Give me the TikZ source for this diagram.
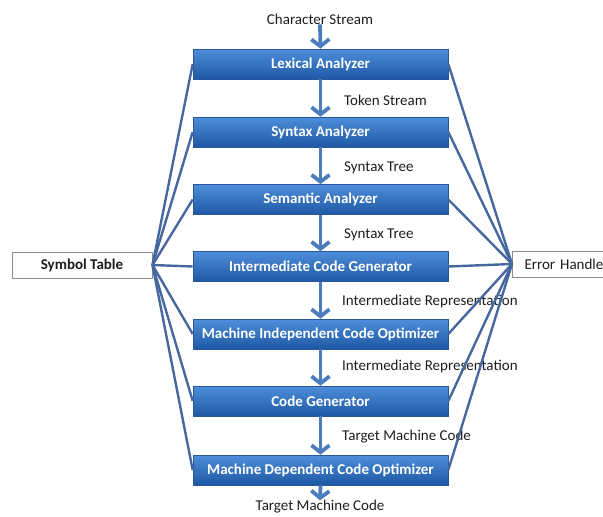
\documentclass[tikz,border=0pt]{standalone}
\usepackage{fontspec}
\setmainfont{Carlito}
\usetikzlibrary{arrows.meta}
\definecolor{boxtop}{RGB}{78,142,218}
\definecolor{boxbot}{RGB}{30,88,164}
\definecolor{boxedge}{RGB}{40,88,155}
\definecolor{linkblue}{RGB}{70,104,158}
\definecolor{flowblue}{RGB}{74,124,190}
\definecolor{sideedge}{RGB}{140,140,140}
\definecolor{inktext}{RGB}{30,30,30}
\tikzset{
  stagebox/.style={rectangle, minimum width=255pt, minimum height=30pt, inner sep=0pt,
    top color=boxtop, bottom color=boxbot, draw=boxedge, line width=0.6pt,
    text=white, font=\fontsize{15}{18}\selectfont\bfseries},
  sidebox/.style={rectangle, minimum height=26pt, inner sep=0pt, fill=white,
    draw=sideedge, line width=1pt, text=inktext},
  lbl/.style={anchor=west, inner sep=0pt, text=inktext, font=\fontsize{15}{18}\selectfont},
  flow/.style={-{Straight Barb[length=7pt,width=18pt]}, line width=3.8pt, draw=flowblue},
  link/.style={line width=2.4pt, draw=linkblue},
}
\begin{document}
\begin{tikzpicture}[x=1pt,y=-1pt]
\useasboundingbox (0,0) rectangle (603,517);
\clip (0,0) rectangle (603,517);
\node[stagebox] (b1) at (320.5,64) {Lexical Analyzer};
\node[stagebox] (b2) at (320.5,132) {Syntax Analyzer};
\node[stagebox] (b3) at (320.5,199.5) {Semantic Analyzer};
\node[stagebox] (b4) at (320.5,266.5) {Intermediate Code Generator};
\node[stagebox] (b5) at (320.5,334) {Machine Independent Code Optimizer};
\node[stagebox] (b6) at (320.5,401) {Code Generator};
\node[stagebox] (b7) at (320.5,470) {Machine Dependent Code Optimizer};

\node[sidebox, minimum width=140pt, font=\fontsize{15}{18}\selectfont\bfseries] (sym) at (82,265) {Symbol Table};
\node[sidebox, minimum width=120pt, anchor=west, inner xsep=12pt, font=\fontsize{15}{18}\selectfont, text width=96pt, align=left] (err) at (512,264) {Error Handle};

\node[inner sep=0pt, text=inktext, font=\fontsize{15}{18}\selectfont] (cs) at (320,19) {Character Stream};
\node[inner sep=0pt, text=inktext, font=\fontsize{15}{18}\selectfont] (tmc) at (320,507) {Target Machine Code};

\node[lbl] (l1) at (344,100) {Token Stream};
\node[lbl] (l2) at (344,168) {Syntax Tree};
\node[lbl] (l3) at (344,235) {Syntax Tree};
\node[lbl] (l4) at (342,301) {Intermediate Representation};
\node[lbl] (l5) at (342,366) {Intermediate Representation};
\node[lbl] (l6) at (342,437) {Target Machine Code};

\foreach \b in {b1,b2,b3,b4,b5,b6,b7}{
  \draw[link] (sym.east) -- (\b.west);
  \draw[link] (err.west) -- (\b.east);
}

\draw[flow] (cs.south) -- (b1.north);
\draw[flow] (b1.south) -- (b2.north);
\draw[flow] (b2.south) -- (b3.north);
\draw[flow] (b3.south) -- (b4.north);
\draw[flow] (b4.south) -- (b5.north);
\draw[flow] (b5.south) -- (b6.north);
\draw[flow] (b6.south) -- (b7.north);
\draw[flow] (b7.south) -- (tmc.north);
\end{tikzpicture}
\end{document}
